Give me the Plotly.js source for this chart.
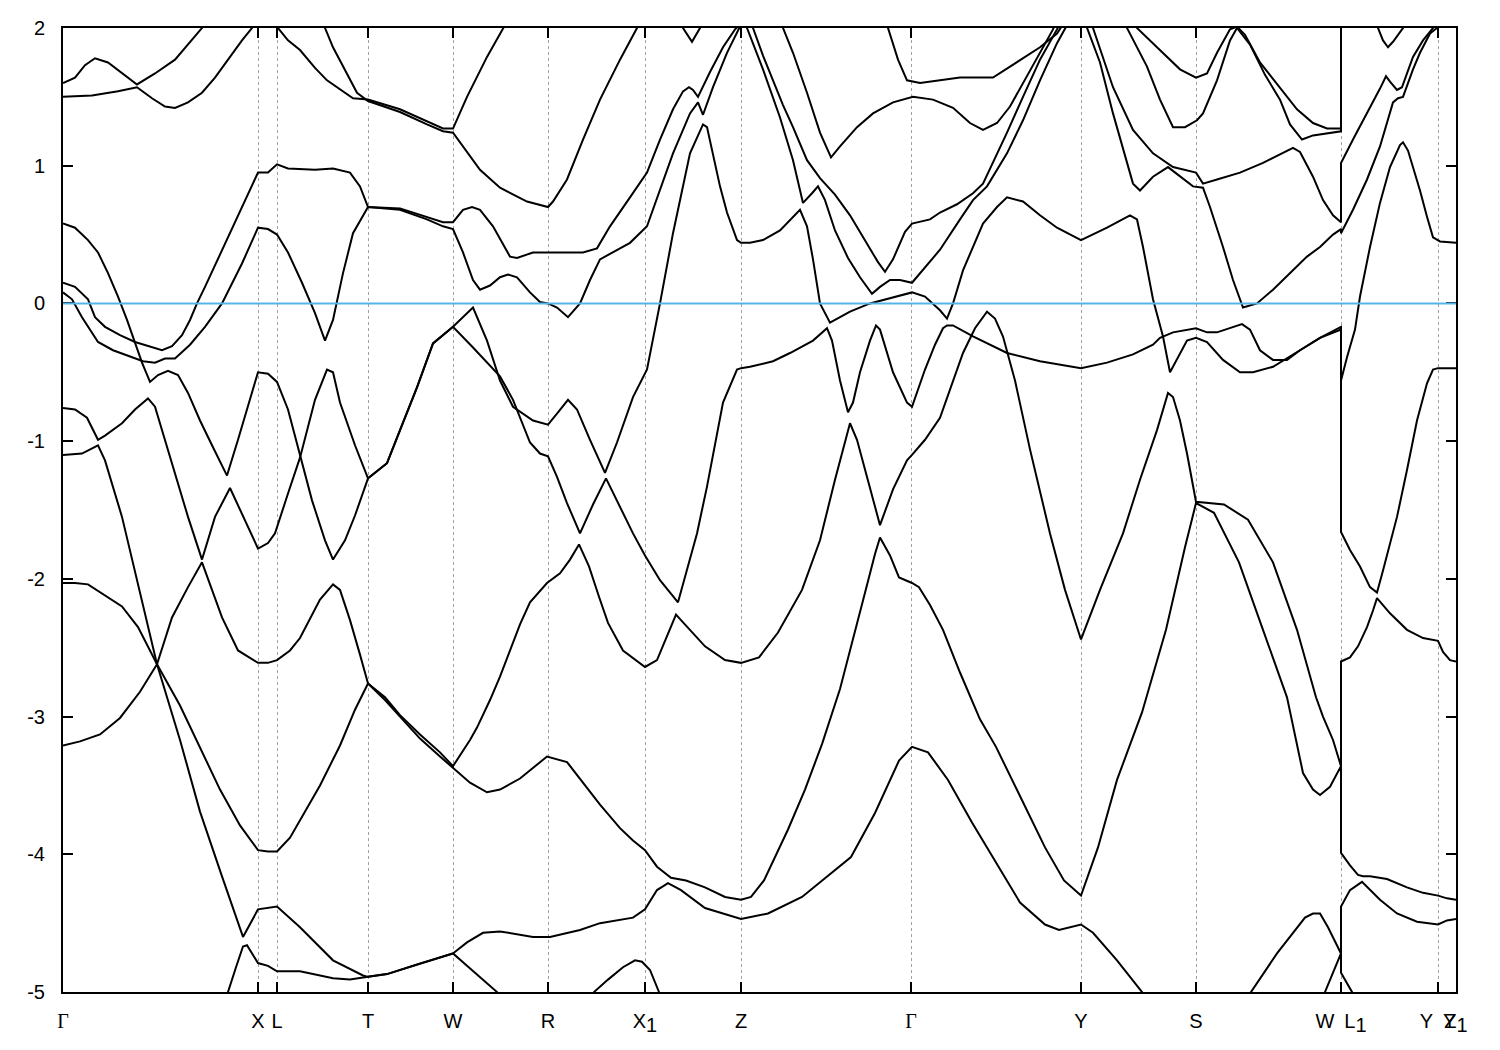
<!DOCTYPE html>
<html><head><meta charset="utf-8">
<script src="https://cdn.plot.ly/plotly-3.0.1.min.js"></script>
<style>html,body{margin:0;padding:0;background:#fff}</style>
</head><body><div id="chart" style="width:1500px;height:1050px"></div>
<script>
// k-path positions of the high-symmetry points (arbitrary path units) and their labels
const kTicks = [0, 1.95, 2.14, 3.05, 3.90, 4.85, 5.82, 6.78, 8.48, 10.18, 11.33, 12.78, 13.75, 13.93];
const SUB1 = '<sub><span style="font-size:20px">1</span></sub>';
const GAMMA = '<span style="font-family:Liberation Serif">Γ</span>';
const kLabels = [GAMMA, 'X', 'L', 'T', 'W', 'R', 'X' + SUB1, 'Z', GAMMA, 'Y', 'S', 'W\u2002L' + SUB1, 'Y\u2002Y', 'Z' + SUB1];
const eTicks = [-5, -4, -3, -2, -1, 0, 1, 2];
const eLabels = ['-5', '-4', '-3', '-2', '-1', '0', '1', '2'];

// bands: [k, E(eV)]
const s1 = [[1.62,-5.09],[1.65,-5.00],[1.73,-4.82],[1.80,-4.67],[1.84,-4.66],[1.89,-4.72],[1.95,-4.79],[2.05,-4.81],[2.14,-4.85],[2.24,-4.85],[2.37,-4.85],[2.70,-4.90],[2.87,-4.91],[3.05,-4.89],[3.24,-4.87],[3.54,-4.80],[3.90,-4.72],[4.04,-4.81],[4.34,-5.00],[4.39,-5.09]];
const s2 = [[5.25,-5.09],[5.31,-5.00],[5.45,-4.91],[5.60,-4.82],[5.72,-4.77],[5.79,-4.78],[5.87,-4.84],[5.96,-5.00],[6.00,-5.09]];
const s3 = [[11.82,-5.09],[11.88,-5.00],[12.14,-4.72],[12.30,-4.57],[12.42,-4.46],[12.50,-4.43],[12.57,-4.43],[12.65,-4.53],[12.78,-4.72],[12.78,-4.38],[12.87,-4.26],[12.99,-4.20],[13.17,-4.33],[13.34,-4.43],[13.54,-4.49],[13.75,-4.51],[13.84,-4.48],[13.93,-4.47]];
const s4 = [[12.59,-5.09],[12.62,-5.00],[12.78,-4.72],[12.78,-4.86],[12.89,-5.00],[12.93,-5.09]];
const bandP = [[0,-3.21],[0.17,-3.18],[0.37,-3.13],[0.57,-3.01],[0.77,-2.82],[0.94,-2.62],[1.17,-3.17],[1.37,-3.69],[1.59,-4.16],[1.80,-4.60],[1.95,-4.40],[2.14,-4.38],[2.37,-4.53],[2.70,-4.77],[3.00,-4.88],[3.05,-4.89],[3.24,-4.87],[3.54,-4.80],[3.90,-4.72],[4.04,-4.64],[4.20,-4.57],[4.37,-4.56],[4.70,-4.60],[4.87,-4.60],[5.17,-4.55],[5.37,-4.50],[5.70,-4.46],[5.82,-4.40],[5.94,-4.26],[6.05,-4.21],[6.18,-4.26],[6.42,-4.39],[6.78,-4.47],[7.05,-4.43],[7.39,-4.31],[7.88,-4.02],[8.12,-3.70],[8.36,-3.32],[8.49,-3.22],[8.65,-3.26],[8.85,-3.46],[9.09,-3.77],[9.33,-4.06],[9.57,-4.35],[9.82,-4.51],[9.96,-4.55],[10.18,-4.51],[10.30,-4.57],[10.54,-4.77],[10.79,-5.00],[10.85,-5.09]];
const bandW = [[0,-2.03],[0.12,-2.03],[0.25,-2.04],[0.42,-2.12],[0.59,-2.20],[0.75,-2.35],[0.94,-2.62],[1.17,-2.92],[1.37,-3.22],[1.57,-3.53],[1.77,-3.79],[1.95,-3.97],[2.05,-3.98],[2.14,-3.98],[2.27,-3.88],[2.37,-3.75],[2.57,-3.50],[2.77,-3.21],[2.92,-2.95],[3.05,-2.76],[3.22,-2.88],[3.37,-3.00],[3.57,-3.16],[3.77,-3.29],[3.90,-3.37],[4.07,-3.48],[4.24,-3.55],[4.37,-3.53],[4.57,-3.45],[4.70,-3.37],[4.84,-3.29],[5.04,-3.33],[5.22,-3.50],[5.37,-3.64],[5.57,-3.81],[5.70,-3.90],[5.82,-3.97],[5.94,-4.09],[6.08,-4.17],[6.23,-4.19],[6.42,-4.24],[6.62,-4.31],[6.78,-4.33],[6.88,-4.31],[7.01,-4.19],[7.25,-3.82],[7.42,-3.53],[7.59,-3.20],[7.77,-2.80],[7.88,-2.50],[8.02,-2.10],[8.12,-1.82],[8.17,-1.70],[8.27,-1.83],[8.36,-1.99],[8.49,-2.03],[8.56,-2.06],[8.67,-2.19],[8.80,-2.37],[8.97,-2.68],[9.17,-3.02],[9.33,-3.22],[9.57,-3.58],[9.82,-3.95],[10.01,-4.19],[10.18,-4.30],[10.35,-3.95],[10.54,-3.46],[10.79,-2.97],[11.03,-2.37],[11.22,-1.77],[11.33,-1.45],[11.51,-1.52],[11.76,-1.88],[12.00,-2.37],[12.24,-2.86],[12.40,-3.41],[12.50,-3.53],[12.57,-3.57],[12.67,-3.51],[12.78,-3.36],[12.78,-3.99],[12.87,-4.08],[12.95,-4.15],[13.00,-4.16],[13.07,-4.16],[13.24,-4.18],[13.44,-4.24],[13.60,-4.28],[13.75,-4.30],[13.84,-4.32],[13.93,-4.33]];
const bandV = [[0,-1.10],[0.19,-1.09],[0.35,-1.03],[0.42,-1.14],[0.59,-1.55],[0.75,-2.03],[0.94,-2.62],[1.09,-2.28],[1.25,-2.06],[1.39,-1.88],[1.49,-2.08],[1.59,-2.28],[1.75,-2.52],[1.95,-2.61],[2.05,-2.61],[2.14,-2.59],[2.27,-2.52],[2.37,-2.43],[2.57,-2.15],[2.70,-2.04],[2.77,-2.08],[2.87,-2.30],[2.97,-2.55],[3.05,-2.76],[3.22,-2.86],[3.37,-2.99],[3.57,-3.13],[3.77,-3.26],[3.90,-3.36],[4.07,-3.17],[4.14,-3.08],[4.27,-2.88],[4.37,-2.71],[4.47,-2.52],[4.57,-2.33],[4.67,-2.17],[4.84,-2.03],[4.97,-1.96],[5.07,-1.86],[5.16,-1.75],[5.26,-1.91],[5.36,-2.13],[5.45,-2.32],[5.60,-2.52],[5.82,-2.64],[5.94,-2.59],[6.01,-2.47],[6.07,-2.36],[6.13,-2.26],[6.18,-2.30],[6.42,-2.49],[6.62,-2.59],[6.78,-2.61],[6.96,-2.57],[7.15,-2.39],[7.39,-2.08],[7.57,-1.72],[7.72,-1.28],[7.87,-0.87],[7.94,-0.99],[8.10,-1.43],[8.17,-1.61],[8.30,-1.35],[8.44,-1.14],[8.49,-1.10],[8.62,-0.99],[8.77,-0.83],[8.90,-0.56],[9.00,-0.36],[9.12,-0.18],[9.24,-0.06],[9.32,-0.11],[9.40,-0.24],[9.52,-0.56],[9.67,-1.06],[9.87,-1.67],[10.02,-2.08],[10.18,-2.44],[10.37,-2.08],[10.60,-1.67],[10.77,-1.28],[10.94,-0.92],[11.05,-0.65],[11.10,-0.68],[11.17,-0.85],[11.24,-1.09],[11.33,-1.44],[11.61,-1.46],[11.85,-1.57],[12.10,-1.88],[12.34,-2.37],[12.53,-2.86],[12.60,-3.00],[12.70,-3.17],[12.78,-3.36],[12.78,-2.60],[12.87,-2.57],[12.95,-2.49],[13.04,-2.35],[13.10,-2.23],[13.14,-2.14],[13.27,-2.25],[13.44,-2.37],[13.60,-2.43],[13.75,-2.45],[13.80,-2.53],[13.87,-2.59],[13.93,-2.60]];
const bandU = [[0,-0.76],[0.12,-0.77],[0.24,-0.83],[0.35,-0.99],[0.42,-0.96],[0.59,-0.87],[0.72,-0.77],[0.85,-0.69],[0.92,-0.75],[1.09,-1.16],[1.25,-1.55],[1.39,-1.86],[1.52,-1.55],[1.67,-1.34],[1.82,-1.57],[1.95,-1.78],[2.05,-1.74],[2.12,-1.67],[2.25,-1.38],[2.37,-1.12],[2.52,-0.70],[2.64,-0.48],[2.70,-0.50],[2.77,-0.72],[2.92,-1.03],[3.05,-1.27],[3.24,-1.16],[3.37,-0.92],[3.54,-0.61],[3.70,-0.29],[3.90,-0.17],[4.10,-0.03],[4.24,-0.27],[4.37,-0.56],[4.50,-0.75],[4.70,-0.85],[4.85,-0.88],[4.94,-0.80],[5.05,-0.70],[5.14,-0.77],[5.27,-0.99],[5.42,-1.23],[5.54,-1.01],[5.70,-0.68],[5.84,-0.48],[5.97,0.00],[6.10,0.51],[6.27,1.09],[6.40,1.30],[6.44,1.28],[6.50,1.09],[6.57,0.85],[6.64,0.66],[6.74,0.46],[6.78,0.44],[6.87,0.44],[7.00,0.46],[7.17,0.53],[7.37,0.68],[7.44,0.56],[7.50,0.32],[7.57,0.00],[7.67,-0.14],[7.87,-0.06],[8.07,0.00],[8.27,0.04],[8.49,0.08],[8.62,0.05],[8.77,-0.05],[8.84,-0.11],[8.90,0.00],[9.00,0.24],[9.10,0.41],[9.20,0.58],[9.34,0.70],[9.44,0.77],[9.60,0.74],[9.77,0.64],[9.94,0.55],[10.18,0.46],[10.44,0.55],[10.67,0.64],[10.74,0.61],[10.80,0.41],[10.90,0.03],[11.00,-0.24],[11.07,-0.50],[11.17,-0.37],[11.24,-0.27],[11.33,-0.25],[11.44,-0.28],[11.60,-0.41],[11.77,-0.50],[11.90,-0.50],[12.10,-0.46],[12.37,-0.34],[12.57,-0.25],[12.78,-0.19],[12.78,-0.56],[12.84,-0.39],[12.92,-0.19],[12.97,0.05],[13.07,0.41],[13.17,0.73],[13.27,0.99],[13.37,1.15],[13.40,1.17],[13.45,1.11],[13.50,0.99],[13.57,0.82],[13.64,0.63],[13.70,0.48],[13.77,0.45],[13.93,0.44]];
const bandC = [[0,0.58],[0.12,0.55],[0.25,0.46],[0.35,0.37],[0.45,0.22],[0.55,0.05],[0.64,-0.12],[0.72,-0.28],[0.79,-0.43],[0.87,-0.57],[0.95,-0.52],[1.05,-0.49],[1.15,-0.52],[1.25,-0.65],[1.37,-0.85],[1.49,-1.03],[1.64,-1.25],[1.75,-0.99],[1.85,-0.75],[1.95,-0.50],[2.05,-0.51],[2.14,-0.57],[2.25,-0.77],[2.37,-1.09],[2.49,-1.43],[2.62,-1.72],[2.70,-1.86],[2.82,-1.72],[2.92,-1.54],[3.05,-1.27],[3.24,-1.16],[3.37,-0.92],[3.54,-0.61],[3.70,-0.29],[3.90,-0.17],[4.10,-0.32],[4.37,-0.53],[4.50,-0.70],[4.67,-1.01],[4.77,-1.09],[4.85,-1.11],[4.94,-1.26],[5.04,-1.45],[5.17,-1.67],[5.30,-1.46],[5.43,-1.27],[5.57,-1.48],[5.70,-1.67],[5.82,-1.83],[5.97,-2.01],[6.15,-2.17],[6.27,-1.86],[6.34,-1.67],[6.44,-1.33],[6.60,-0.72],[6.74,-0.48],[6.78,-0.47],[6.87,-0.46],[7.10,-0.42],[7.27,-0.36],[7.37,-0.32],[7.50,-0.27],[7.64,-0.18],[7.69,-0.27],[7.77,-0.56],[7.85,-0.79],[7.90,-0.72],[7.97,-0.50],[8.07,-0.27],[8.13,-0.16],[8.17,-0.19],[8.30,-0.50],[8.44,-0.72],[8.49,-0.75],[8.62,-0.48],[8.72,-0.30],[8.80,-0.18],[8.84,-0.16],[8.90,-0.16],[9.10,-0.24],[9.44,-0.36],[9.77,-0.42],[10.18,-0.47],[10.44,-0.43],[10.70,-0.37],[10.90,-0.30],[10.97,-0.25],[11.10,-0.21],[11.33,-0.18],[11.44,-0.21],[11.54,-0.21],[11.67,-0.18],[11.79,-0.15],[11.87,-0.19],[11.97,-0.34],[12.10,-0.41],[12.24,-0.41],[12.37,-0.34],[12.57,-0.25],[12.78,-0.17],[12.78,-1.66],[12.87,-1.79],[12.97,-1.91],[13.07,-2.06],[13.14,-2.10],[13.20,-1.94],[13.27,-1.74],[13.34,-1.55],[13.44,-1.21],[13.54,-0.85],[13.64,-0.58],[13.70,-0.48],[13.75,-0.47],[13.93,-0.47]];
const band2 = [[0,0.15],[0.12,0.12],[0.25,0.03],[0.32,-0.10],[0.42,-0.17],[0.57,-0.23],[0.72,-0.28],[0.89,-0.32],[0.99,-0.34],[1.09,-0.31],[1.19,-0.23],[1.27,-0.12],[1.34,0.00],[1.42,0.12],[1.59,0.39],[1.79,0.70],[1.95,0.95],[2.05,0.95],[2.14,1.01],[2.25,0.98],[2.52,0.97],[2.70,0.98],[2.87,0.95],[2.97,0.85],[3.05,0.70],[3.37,0.69],[3.64,0.63],[3.80,0.59],[3.90,0.59],[4.00,0.68],[4.09,0.70],[4.17,0.68],[4.30,0.56],[4.47,0.34],[4.54,0.33],[4.70,0.37],[4.85,0.37],[5.20,0.37],[5.34,0.40],[5.47,0.56],[5.67,0.77],[5.84,0.95],[5.97,1.19],[6.10,1.41],[6.20,1.54],[6.26,1.57],[6.30,1.55],[6.35,1.50],[6.47,1.68],[6.60,1.86],[6.72,1.99],[6.78,2.03],[6.81,2.08]];
const band1 = [[0,0.08],[0.09,0.03],[0.19,-0.10],[0.25,-0.17],[0.35,-0.28],[0.50,-0.34],[0.72,-0.40],[0.80,-0.42],[0.92,-0.43],[1.02,-0.40],[1.12,-0.40],[1.27,-0.30],[1.42,-0.17],[1.59,0.00],[1.79,0.29],[1.95,0.55],[2.05,0.54],[2.14,0.50],[2.25,0.37],[2.39,0.15],[2.52,-0.07],[2.62,-0.27],[2.70,-0.12],[2.80,0.22],[2.90,0.51],[3.05,0.70],[3.37,0.68],[3.64,0.61],[3.80,0.56],[3.90,0.54],[4.00,0.37],[4.10,0.17],[4.17,0.10],[4.27,0.13],[4.37,0.19],[4.45,0.21],[4.54,0.19],[4.67,0.08],[4.77,0.01],[4.85,0.00],[4.94,-0.03],[5.05,-0.10],[5.17,0.00],[5.27,0.17],[5.37,0.32],[5.54,0.39],[5.67,0.44],[5.84,0.56],[5.97,0.82],[6.10,1.09],[6.27,1.38],[6.35,1.46],[6.40,1.37],[6.50,1.57],[6.64,1.82],[6.75,1.99],[6.79,2.04]];
const t1 = [[0,1.60],[0.12,1.64],[0.22,1.73],[0.32,1.78],[0.45,1.75],[0.59,1.67],[0.74,1.59],[0.92,1.67],[1.12,1.77],[1.39,2.00],[1.44,2.06]];
const t2 = [[0,1.50],[0.29,1.51],[0.55,1.54],[0.74,1.57],[0.89,1.49],[1.02,1.43],[1.12,1.42],[1.25,1.46],[1.39,1.53],[1.52,1.64],[1.79,1.91],[1.89,2.00],[1.93,2.06]];
const t3 = [[2.13,2.06],[2.15,2.00],[2.25,1.91],[2.37,1.84],[2.52,1.71],[2.64,1.62],[2.90,1.49],[3.05,1.48],[3.37,1.41],[3.64,1.32],[3.80,1.27],[3.90,1.27],[4.04,1.50],[4.24,1.79],[4.40,2.00],[4.45,2.06]];
const t4 = [[2.59,2.06],[2.62,2.00],[2.70,1.86],[2.80,1.72],[2.94,1.53],[3.05,1.47],[3.37,1.39],[3.64,1.30],[3.80,1.25],[3.90,1.24],[4.00,1.14],[4.17,0.97],[4.37,0.84],[4.64,0.74],[4.85,0.70],[4.90,0.74],[5.04,0.90],[5.20,1.19],[5.37,1.48],[5.57,1.77],[5.74,2.00],[5.78,2.06]];
const tM = [[6.17,2.06],[6.20,2.00],[6.29,1.90],[6.37,2.00],[6.40,2.06]];
const b3 = [[6.85,2.07],[6.90,2.00],[7.00,1.80],[7.10,1.62],[7.20,1.44],[7.30,1.28],[7.44,1.04],[7.57,0.91],[7.72,0.79],[7.87,0.64],[8.02,0.46],[8.15,0.30],[8.22,0.23],[8.30,0.32],[8.42,0.52],[8.49,0.58],[8.67,0.61],[8.77,0.66],[8.94,0.72],[9.10,0.80],[9.20,0.87],[9.30,1.02],[9.44,1.24],[9.60,1.50],[9.77,1.77],[9.94,1.99],[9.99,2.06]];
const b4 = [[6.81,2.08],[6.84,2.00],[7.00,1.70],[7.17,1.35],[7.30,1.04],[7.40,0.73],[7.49,0.80],[7.55,0.85],[7.62,0.75],[7.72,0.53],[7.85,0.33],[7.97,0.19],[8.09,0.07],[8.17,0.12],[8.27,0.17],[8.37,0.17],[8.49,0.15],[8.62,0.26],[8.77,0.39],[8.97,0.61],[9.10,0.75],[9.24,0.85],[9.34,0.97],[9.44,1.09],[9.60,1.33],[9.77,1.62],[9.94,1.89],[10.03,2.00],[10.07,2.06]];
const b15 = [[7.17,2.06],[7.20,2.00],[7.30,1.82],[7.44,1.53],[7.57,1.24],[7.68,1.06],[7.77,1.14],[7.94,1.28],[8.10,1.38],[8.30,1.46],[8.50,1.50],[8.70,1.48],[8.90,1.42],[9.07,1.31],[9.20,1.26],[9.34,1.31],[9.47,1.43],[9.60,1.60],[9.77,1.82],[9.90,1.99],[9.94,2.06]];
const b16 = [[8.22,2.06],[8.25,2.00],[8.35,1.77],[8.44,1.62],[8.57,1.60],[8.77,1.62],[8.97,1.64],[9.30,1.64],[9.54,1.75],[9.77,1.86],[9.94,1.96],[10.00,2.02],[10.03,2.06]];
const bH = [[10.27,2.06],[10.30,2.00],[10.50,1.57],[10.70,1.26],[10.90,1.09],[11.10,0.99],[11.33,0.95],[11.40,0.87],[11.54,0.90],[11.77,0.95],[12.00,1.02],[12.20,1.09],[12.30,1.13],[12.37,1.10],[12.50,0.92],[12.60,0.75],[12.70,0.64],[12.78,0.59],[12.78,1.02],[12.90,1.19],[13.04,1.38],[13.17,1.56],[13.23,1.65],[13.27,1.61],[13.34,1.55],[13.39,1.57],[13.44,1.67],[13.50,1.79],[13.60,1.91],[13.70,2.00],[13.73,2.06]];
const bI = [[10.21,2.06],[10.24,2.00],[10.37,1.75],[10.50,1.38],[10.64,1.02],[10.70,0.87],[10.77,0.82],[10.90,0.92],[11.05,0.99],[11.17,0.92],[11.30,0.85],[11.40,0.84],[11.47,0.70],[11.60,0.41],[11.70,0.17],[11.80,-0.03],[11.94,0.00],[12.10,0.10],[12.27,0.22],[12.44,0.34],[12.57,0.41],[12.70,0.50],[12.78,0.54],[12.78,0.51],[12.90,0.68],[13.04,0.90],[13.17,1.14],[13.30,1.46],[13.35,1.49],[13.40,1.50],[13.50,1.70],[13.57,1.82],[13.67,1.96],[13.74,2.00],[13.77,2.06]];
const bJ = [[10.62,2.06],[10.64,2.00],[10.84,1.72],[10.97,1.48],[11.10,1.28],[11.22,1.28],[11.34,1.33],[11.40,1.38],[11.54,1.62],[11.67,1.91],[11.74,2.00],[11.87,1.88],[12.02,1.66],[12.17,1.48],[12.27,1.30],[12.39,1.19],[12.50,1.22],[12.67,1.24],[12.78,1.25],[12.78,2.07]];
const bK = [[10.72,2.06],[10.74,2.00],[10.94,1.86],[11.17,1.70],[11.33,1.64],[11.44,1.67],[11.54,1.82],[11.67,1.99],[11.74,2.01],[11.82,1.95],[11.97,1.75],[12.17,1.57],[12.34,1.41],[12.50,1.31],[12.64,1.27],[12.78,1.27],[12.78,2.07]];
const bL = [[13.13,2.06],[13.15,2.00],[13.20,1.91],[13.25,1.86],[13.30,1.90],[13.40,2.00],[13.43,2.06]];

const bands = [s1, s2, s3, s4, bandP, bandW, bandV, bandU, bandC, band2, band1, t1, t2, t3, t4, tM, b3, b4, b15, b16, bH, bI, bJ, bK, bL];

const traces = bands.map(b => ({
  x: b.map(p => p[0]), y: b.map(p => p[1]),
  type: 'scatter', mode: 'lines',
  line: {color: '#000000', width: 2},
  hoverinfo: 'skip', showlegend: false
}));

const axisCommon = {
  showline: true, linecolor: '#000000', linewidth: 2, mirror: 'ticks',
  ticks: 'inside', ticklen: 10, tickwidth: 2, tickcolor: '#000000',
  zeroline: false, tickfont: {family: 'Liberation Sans, Arial, sans-serif', size: 20, color: '#000000'}
};

const layout = {
  width: 1500, height: 1050,
  margin: {l: 63, r: 44, t: 28, b: 58, pad: 0},
  paper_bgcolor: '#ffffff', plot_bgcolor: '#ffffff',
  font: {family: 'Liberation Sans, Arial, sans-serif', size: 20, color: '#000000'},
  showlegend: false,
  xaxis: Object.assign({}, axisCommon, {
    range: [kTicks[0], kTicks[kTicks.length - 1]],
    tickmode: 'array', tickvals: kTicks, ticktext: kLabels, tickangle: 0,
    showgrid: true, gridcolor: '#a0a0a0', gridwidth: 1, griddash: '3px,3px',
    ticklabelstandoff: 10
  }),
  yaxis: Object.assign({}, axisCommon, {
    range: [eTicks[0], eTicks[eTicks.length - 1]],
    tickmode: 'array', tickvals: eTicks, ticktext: eLabels,
    showgrid: false, ticklabelstandoff: 12
  }),
  shapes: [{type: 'line', xref: 'paper', x0: 0, x1: 1, yref: 'y', y0: 0, y1: 0,
            line: {color: '#56b4e9', width: 2}, layer: 'above'}]
};

Plotly.newPlot('chart', traces, layout, {displayModeBar: false, staticPlot: true});
</script>
</body></html>
